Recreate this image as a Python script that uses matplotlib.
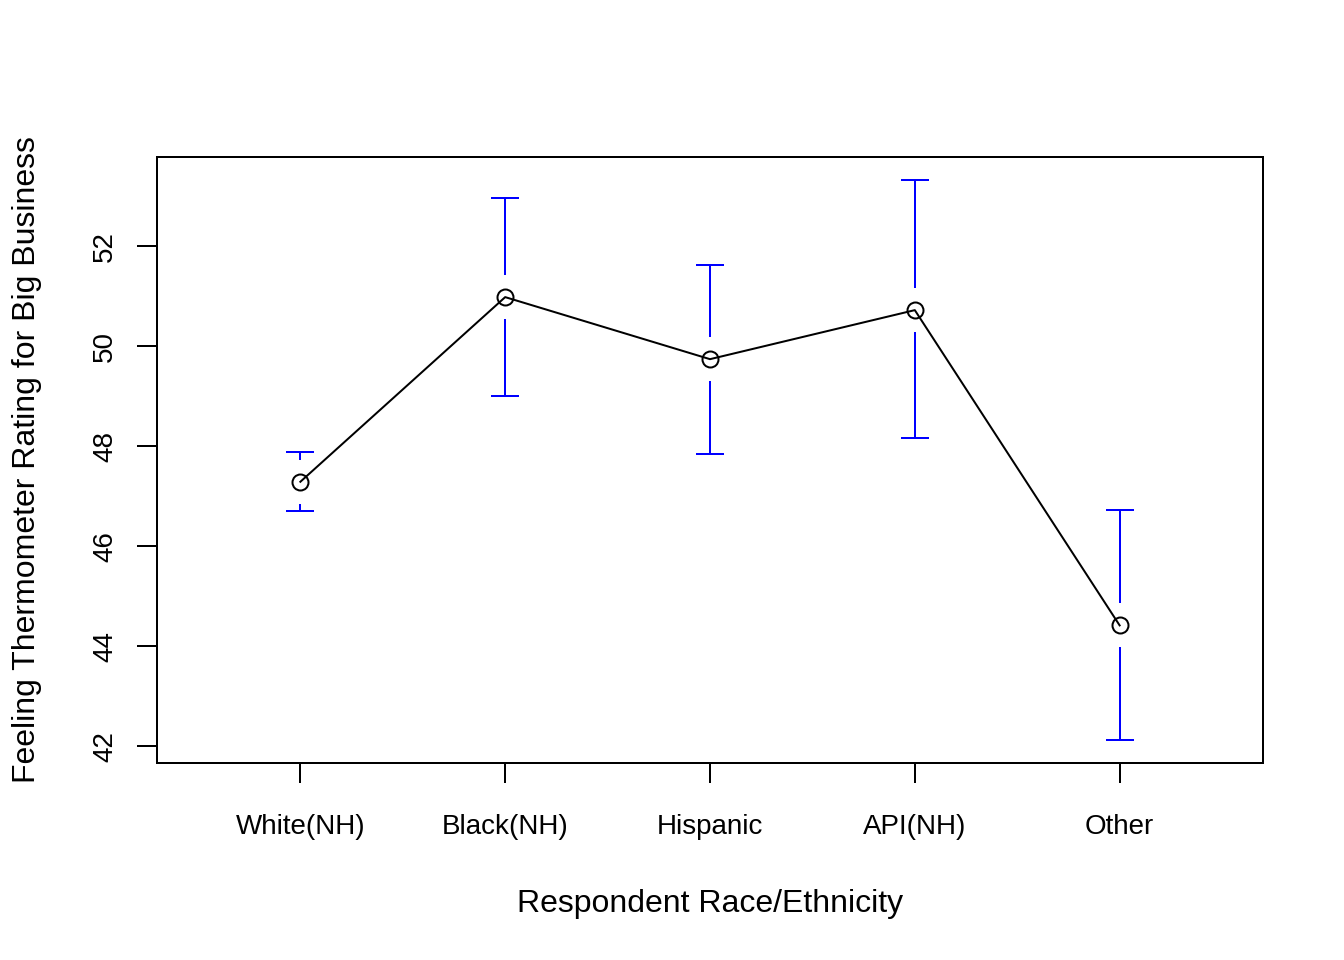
import numpy as np
import matplotlib.pyplot as plt

# group means and 95% CI bounds
groups = ["White(NH)", "Black(NH)", "Hispanic", "API(NH)", "Other"]
means = [47.29, 50.98, 49.74, 50.72, 44.42]
upper = [47.89, 52.96, 51.62, 53.32, 46.73]
lower = [46.71, 49.00, 47.85, 48.17, 42.12]
yticks = [42, 44, 46, 48, 50, 52]

plt.rcParams['font.family'] = ['Liberation Sans', 'DejaVu Sans']
plt.rcParams['font.size'] = 12

fig = plt.figure(figsize=(7, 5), dpi=192)
ax = fig.add_axes([157/1344, 1 - 763/960, 1106/1344, 606/960])

x = np.arange(1, len(groups) + 1)
means = np.array(means)
upper = np.array(upper)
lower = np.array(lower)

ax.set_xlim(0.3, 5.7)
ax.set_ylim(41.67, 53.78)

# gap around the point, like plotCI(gap=1)
gap = 22 / (606 / (53.78 - 41.67))
cap = 14 / (1106 / 5.4)
lw = 0.75

ax.vlines(x, means + gap, upper, color="blue", lw=lw)
ax.vlines(x, lower, means - gap, color="blue", lw=lw)
ax.hlines(upper, x - cap, x + cap, color="blue", lw=lw)
ax.hlines(lower, x - cap, x + cap, color="blue", lw=lw)

ax.plot(x, means, color="black", lw=lw, marker="o", markersize=6,
        markerfacecolor="none", markeredgecolor="black", markeredgewidth=lw)

ax.set_xticks(x)
ax.set_xticklabels(groups)
ax.set_yticks(yticks)
ax.tick_params(axis='both', direction='out', length=7.5, width=lw, labelsize=10.4)
ax.tick_params(axis='x', pad=11.5)
ax.tick_params(axis='y', pad=7)
for lab in ax.get_yticklabels():
    lab.set_rotation(90)
    lab.set_va('center')

for sp in ax.spines.values():
    sp.set_linewidth(lw)

ax.set_xlabel("Respondent Race/Ethnicity", fontsize=12, va='center')
ax.xaxis.set_label_coords(0.5, (763 - 904) / 606)
ax.set_ylabel("Feeling Thermometer Rating for Big Business", fontsize=12, va='center')
ax.yaxis.set_label_coords((27 - 157) / 1106, 0.5)

fig.savefig("out.png", dpi=192)
